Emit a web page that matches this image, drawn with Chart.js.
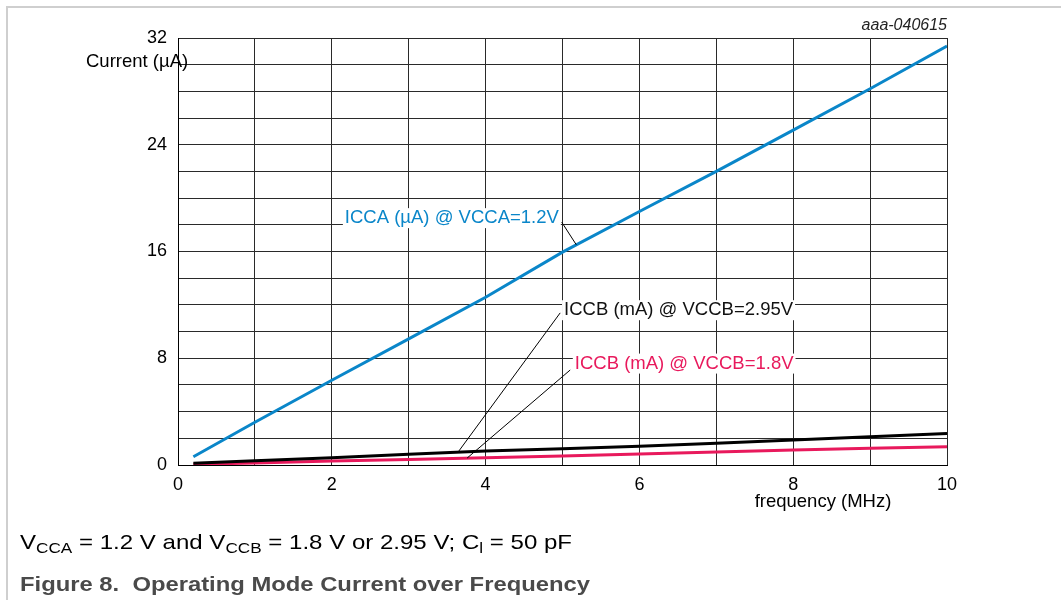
<!DOCTYPE html>
<html>
<head>
<meta charset="utf-8">
<script src="https://cdn.jsdelivr.net/npm/chart.js@4.4.1/dist/chart.umd.min.js"></script>
<style>
  html, body { margin: 0; padding: 0; background: #fff; }
  #wrap { position: relative; width: 1061px; height: 600px; overflow: hidden; }
  #frame { position: absolute; left: 6px; top: 6px; width: 1100px; height: 700px;
           border-left: 2px solid #cfcfcf; border-top: 2px solid #cfcfcf; }
  canvas { position: absolute; left: 0; top: 0; }
  .cap { position: absolute; left: 20px; font-family: "Liberation Sans", Arial, sans-serif;
         white-space: nowrap; transform-origin: 0 0; }
  #cap1 { top: 530px; font-size: 21px; color: #000; transform: scaleX(1.145); }
  #cap1 sub { font-size: 15px; vertical-align: -4px; line-height: 0; }
  #cap2 { top: 573px; font-size: 20px; font-weight: bold; color: #4a4a4a; transform: scaleX(1.19); }
</style>
</head>
<body>
<div id="wrap">
  <div id="frame"></div>
  <canvas id="myChart" width="1061" height="600"></canvas>
  <div class="cap" id="cap1">V<sub>CCA</sub> = 1.2 V and V<sub>CCB</sub> = 1.8 V or 2.95 V; C<sub>l</sub> = 50 pF</div>
  <div class="cap" id="cap2">Figure 8.&nbsp; Operating Mode Current over Frequency</div>
</div>
<script>

const ctx = document.getElementById('myChart');

// frequency (MHz)
const freq = [0.2, 1, 2, 3, 4, 5, 6, 7, 8, 9, 10];
// ICCA (uA) @ VCCA=1.2V
const iccaVcca12 = [0.62, 3.2, 6.35, 9.45, 12.57, 15.95, 19.0, 22.0, 25.1, 28.2, 31.4];
// ICCB (mA) @ VCCB=2.95V
const iccbVccb295 = [0.13, 0.32, 0.55, 0.8, 1.05, 1.22, 1.4, 1.63, 1.87, 2.12, 2.37];
// ICCB (mA) @ VCCB=1.8V
const iccbVccb18 = [0.05, 0.15, 0.3, 0.42, 0.55, 0.68, 0.82, 0.97, 1.12, 1.25, 1.37];

const xTickLabels = [0, 2, 4, 6, 8, 10];
const yTickLabels = [0, 8, 16, 24, 32];

const blue = '#0a86c9';
const pink = '#e8195c';
const black = '#000000';

// labels on the plot, anchored in data units
const notes = [
    { text: 'ICCA (\u00b5A) @ VCCA=1.2V', color: blue, x: 2.17, y: 18.5, from: [4.99, 18.2], to: [5.18, 16.5] },
    { text: 'ICCB (mA) @ VCCB=2.95V', color: '#111', x: 5.02, y: 11.6, from: [4.97, 11.4], to: [3.64, 0.95] },
    { text: 'ICCB (mA) @ VCCB=1.8V', color: pink, x: 5.16, y: 7.6, from: [5.1, 7.12], to: [3.76, 0.52] },
];

const toPoints = (ys) => ys.map((y, i) => ({ x: freq[i], y: y }));

const textPlugin = {
    id: 'texts',
    afterDatasetsDraw(chart) {
        const c = chart.ctx;
        const xs = chart.scales.x;
        const ys = chart.scales.y;
        c.save();
        c.font = '18.5px "Liberation Sans", Arial, sans-serif';
        c.textBaseline = 'middle';
        notes.forEach(n => {
            // leader line
            c.strokeStyle = '#000';
            c.lineWidth = 1;
            c.beginPath();
            c.moveTo(xs.getPixelForValue(n.from[0]), ys.getPixelForValue(n.from[1]));
            c.lineTo(xs.getPixelForValue(n.to[0]), ys.getPixelForValue(n.to[1]));
            c.stroke();
            // text on white
            const px = xs.getPixelForValue(n.x);
            const py = ys.getPixelForValue(n.y);
            const w = c.measureText(n.text).width;
            c.fillStyle = '#fff';
            c.fillRect(px - 2, py - 10, w + 4, 20);
            c.fillStyle = n.color;
            c.textAlign = 'left';
            c.fillText(n.text, px, py);
        });
        c.restore();
    },
    afterDraw(chart) {
        const c = chart.ctx;
        const area = chart.chartArea;
        c.save();
        c.fillStyle = '#000';
        c.textBaseline = 'middle';
        c.font = '18.5px "Liberation Sans", Arial, sans-serif';
        c.textAlign = 'left';
        c.fillText('Current (\u00b5A)', 86, 62);
        c.textAlign = 'center';
        c.fillText('frequency (MHz)', 823, 502);
        c.font = 'italic 16px "Liberation Sans", Arial, sans-serif';
        c.textAlign = 'right';
        c.fillStyle = '#222';
        c.fillText('aaa-040615', area.right, 26);
        c.restore();
    }
};

const config = {
    type: 'line',
    data: {
        datasets: [{
            label: 'ICCA (\u00b5A) @ VCCA=1.2V',
            data: toPoints(iccaVcca12),
            borderColor: blue,
            borderWidth: 3,
            pointRadius: 0,
            tension: 0
        }, {
            label: 'ICCB (mA) @ VCCB=2.95V',
            data: toPoints(iccbVccb295),
            borderColor: black,
            borderWidth: 3,
            pointRadius: 0,
            tension: 0
        }, {
            label: 'ICCB (mA) @ VCCB=1.8V',
            data: toPoints(iccbVccb18),
            borderColor: pink,
            borderWidth: 3,
            pointRadius: 0,
            tension: 0
        }]
    },
    options: {
        responsive: false,
        animation: false,
        events: [],
        layout: {
            padding: { left: 0, top: 38, right: 114, bottom: 0 }
        },
        scales: {
            x: {
                type: 'linear',
                min: 0,
                max: 10,
                afterFit: (scale) => { scale.height = 135; },
                grid: { color: '#2a2a2a', lineWidth: 1, drawTicks: false },
                border: { color: '#000', width: 1 },
                ticks: {
                    stepSize: 1,
                    autoSkip: false,
                    maxRotation: 0,
                    padding: 9,
                    color: '#000',
                    font: { size: 18 },
                    callback: (v) => xTickLabels.includes(v) ? String(v) : ''
                }
            },
            y: {
                type: 'linear',
                min: 0,
                max: 32,
                afterFit: (scale) => { scale.width = 178; },
                grid: { color: '#2a2a2a', lineWidth: 1, drawTicks: false },
                border: { color: '#000', width: 1 },
                ticks: {
                    stepSize: 2,
                    autoSkip: false,
                    padding: 11,
                    color: '#000',
                    font: { size: 18 },
                    callback: (v) => yTickLabels.includes(v) ? String(v) : ''
                }
            }
        },
        plugins: {
            legend: { display: false },
            tooltip: { enabled: false }
        }
    },
    plugins: [textPlugin]
};

Chart.defaults.font.family = '"Liberation Sans", Arial, sans-serif';

const myChart = new Chart(ctx, config);
</script>
</body>
</html>
